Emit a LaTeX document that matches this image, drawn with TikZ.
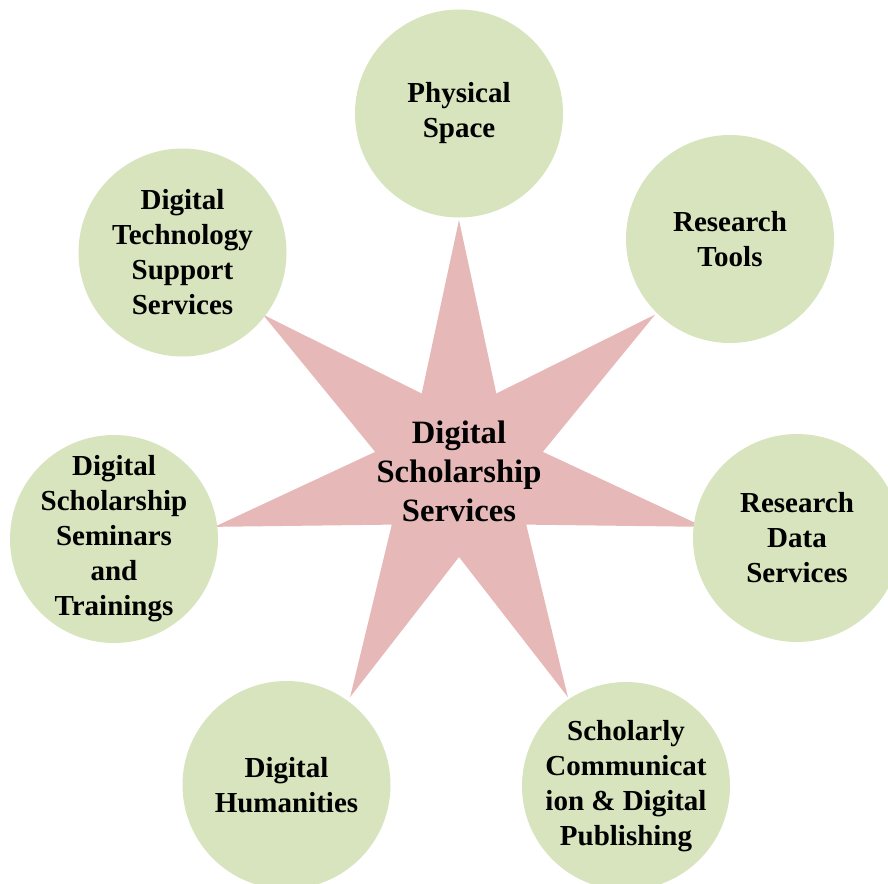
\documentclass[tikz,border=0pt]{standalone}
\usepackage{fontspec}
\setmainfont{Liberation Serif}
\definecolor{leaf}{HTML}{D7E4BD}
\definecolor{rose}{HTML}{E6B9B8}
\tikzset{
	service/.style={align=center, inner sep=0pt,
		font=\fontsize{29}{35}\selectfont\bfseries},
	hub/.style={align=center, font=\fontsize{32.6}{39}\selectfont\bfseries}
}
\begin{document}
\begin{tikzpicture}[x=1pt, y=-1pt]

\useasboundingbox (0, 0) rectangle (888, 883);
\coordinate (c) at (459, 471);

\fill[rose, shift={(c)}] plot[samples at={0,...,13}, variable=\k]
	({-90+\k*360/14}:{ifthenelse(mod(\k,2)==0,251,86)}) -- cycle;

\foreach \x/\y/\name/\text in {
	459/113.5/phys/Physical\\Space,
	730/239/tools/Research\\Tools,
	797/538/data/Research\\Data\\Services,
	626/786/schol/Scholarly\\Communicat\\ion \& Digital\\Publishing,
	286.5/785/human/Digital\\Humanities,
	114/539/semin/Digital\\Scholarship\\Seminars\\and\\Trainings,
	182.5/252.5/dtss/Digital\\Technology\\Support\\Services}
{
\fill[leaf] (\x, \y) circle (104);
\node[service] (\name) at (\x, \y) {\text};
}

\node[hub] (hub) at (c) {Digital\\Scholarship\\Services};

\end{tikzpicture}
\end{document}
